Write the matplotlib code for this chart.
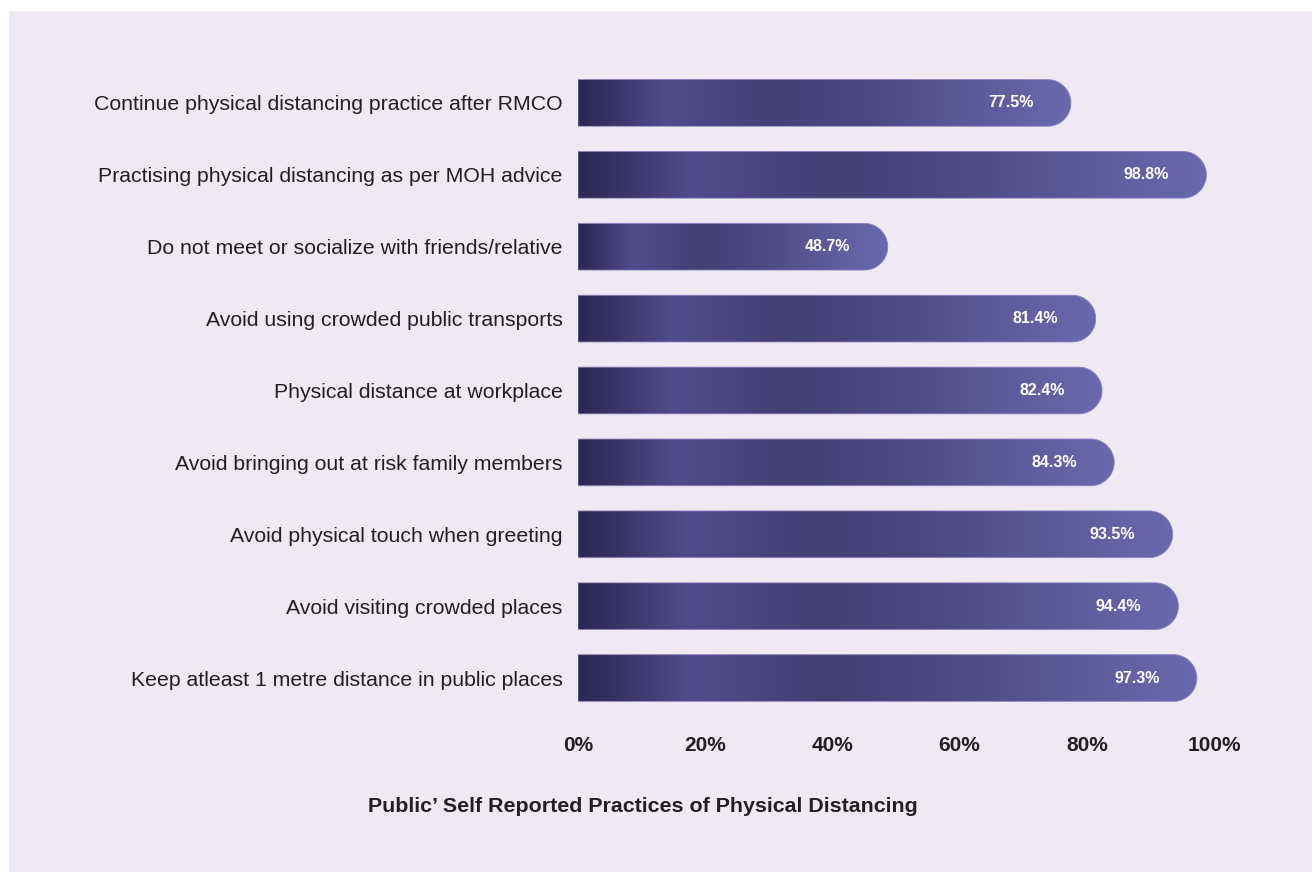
import matplotlib
matplotlib.use("Agg")
import matplotlib.pyplot as plt
import numpy as np
from matplotlib.path import Path
from matplotlib.patches import PathPatch, Rectangle
from matplotlib.colors import LinearSegmentedColormap

plt.rcParams['font.family'] = ['Liberation Sans', 'DejaVu Sans']

categories = [
    "Continue physical distancing practice after RMCO",
    "Practising physical distancing as per MOH advice",
    "Do not meet or socialize with friends/relative",
    "Avoid using crowded public transports",
    "Physical distance at workplace",
    "Avoid bringing out at risk family members",
    "Avoid physical touch when greeting",
    "Avoid visiting crowded places",
    "Keep atleast 1 metre distance in public places",
]
values = [77.5, 98.8, 48.7, 81.4, 82.4, 84.3, 93.5, 94.4, 97.3]
xticks = [0, 20, 40, 60, 80, 100]
xtick_labels = ["0%", "20%", "40%", "60%", "80%", "100%"]
title = "Public\u2019 Self Reported Practices of Physical Distancing"

W, H = 1312, 872
fig = plt.figure(figsize=(W / 100, H / 100), dpi=100)
fig.patch.set_facecolor("white")
# lavender panel
fig.patches.append(Rectangle((9 / W, 0), 1 - 9 / W, 1 - 11 / H, transform=fig.transFigure,
                             facecolor="#efe9f4", edgecolor="none", zorder=-10))

ax_left, ax_right = 578, 1300
ax_top, ax_bottom = 67, 714
ax = fig.add_axes([ax_left / W, 1 - ax_bottom / H, (ax_right - ax_left) / W, (ax_bottom - ax_top) / H])
ax.set_facecolor("none")
px_per_unit = 6.36
xmax = (ax_right - ax_left) / px_per_unit
ax.set_xlim(0, xmax)
n = len(categories)
ax.set_ylim(n - 0.5, -0.5)

ypos = np.arange(n)
bar_h = 0.65
bars = ax.barh(ypos, values, height=bar_h, color="none", edgecolor="none")

cmap = LinearSegmentedColormap.from_list("g", [
    (0.0, "#2b2855"), (0.04, "#332e5e"), (0.18, "#524b8c"), (0.40, "#443f74"),
    (0.60, "#4e4983"), (0.80, "#5c5a99"), (1.0, "#6a69ae")])
grad = np.linspace(0, 1, 256).reshape(1, -1)

y_px_per_unit = (ax_bottom - ax_top) / n
for rect, v in zip(bars, values):
    x0 = rect.get_x()
    w = rect.get_width()
    y0 = rect.get_y()
    h = rect.get_height()
    r_px = h * y_px_per_unit / 2
    rx = r_px / px_per_unit
    ry = h / 2
    xe = x0 + w - rx
    yc = y0 + h / 2
    verts = [(x0, y0), (xe, y0)]
    th = np.linspace(-np.pi / 2, np.pi / 2, 40)
    for t in th:
        verts.append((xe + rx * np.cos(t), yc + ry * np.sin(t)))
    verts += [(x0, y0 + h), (x0, y0)]
    codes = [Path.MOVETO] + [Path.LINETO] * (len(verts) - 2) + [Path.CLOSEPOLY]
    path = Path(verts, codes)
    patch = PathPatch(path, facecolor="none", edgecolor="#8a84bb", lw=0.6, zorder=3)
    ax.add_patch(patch)
    im = ax.imshow(grad, cmap=cmap, aspect="auto", extent=(x0, x0 + w, y0 + h, y0),
                   interpolation="bilinear", zorder=2)
    im.set_clip_path(patch)
    ax.text(x0 + w - 60 / px_per_unit, yc, f"{v}%", ha="center", va="center",
            color="white", fontsize=11.5, fontweight="bold", zorder=4)

ax.set_xlim(0, xmax)
ax.set_ylim(n - 0.5, -0.5)
ax.set_yticks(ypos)
ax.set_yticklabels(categories, fontsize=15.3, color="#231f20")
ax.set_xticks(xticks)
ax.set_xticklabels(xtick_labels, fontsize=15, fontweight="bold", color="#231f20")
ax.tick_params(axis="y", length=0, pad=11)
ax.tick_params(axis="x", length=0, pad=16)
for s in ax.spines.values():
    s.set_visible(False)

fig.text(643 / W, 1 - 806 / H, title, ha="center", va="center", fontsize=15.4,
         fontweight="bold", color="#231f20")

fig.savefig("out.png", dpi=100, facecolor=fig.get_facecolor())
